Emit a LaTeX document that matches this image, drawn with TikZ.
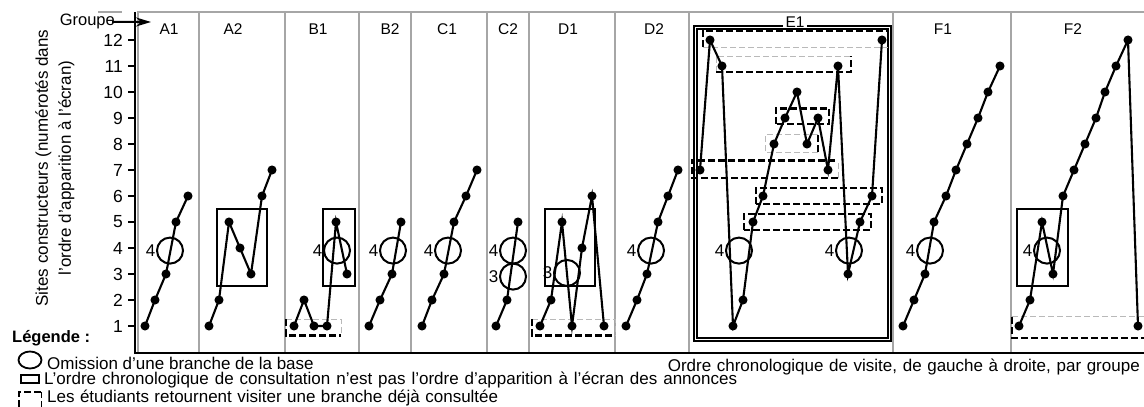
\documentclass[tikz,border=0pt]{standalone}
\usepackage{fontspec}
\setmainfont{Liberation Sans}
\usetikzlibrary{arrows.meta}

\begin{document}
\begin{tikzpicture}[x=1pt,y=1pt,
  ligne/.style={line width=2.1pt, mark=*, mark size=3.4pt},
  omis/.style={circle, draw, line width=2pt, minimum size=26pt, inner sep=0pt},
  chiffre/.style={font=\fontsize{17}{19}\selectfont, inner sep=0.5pt},
  ordre/.style={draw, line width=1.8pt},
  retour/.style={line width=2.8pt, dash pattern=on 7pt off 3pt},
  retourgris/.style={gray!55, line width=0.9pt, dash pattern=on 6pt off 3pt},
  cadre/.style={gray!70, line width=1.5pt},
  grp/.style={font=\fontsize{15.5}{17}\selectfont},
  txt/.style={font=\fontsize{17}{19}\selectfont, anchor=base west, inner sep=0pt}]

\useasboundingbox (0,0) rectangle (1144,407);
\clip (0,0) rectangle (1144,407);

\draw[cadre] (137,395) -- (1144,395);
\draw[cadre] (98,395) -- (122,395);
\foreach \x in {138,199,285,359,411,487,529,615,689,893,1011}
  \draw[cadre] (\x,55) -- (\x,395);
\draw[line width=2.8pt] (135,395) -- (135,54) -- (1144,54);

\node[rotate=90, align=center, font=\fontsize{17}{23}\selectfont] (titre) at (55,239)
  {Sites constructeurs (numérotés dans\\l'ordre d'apparition à l'écran)};

\node[anchor=base east, font=\fontsize{16.5}{18}\selectfont, inner sep=0pt] (groupe) at (115,381) {Groupe};
\coordinate (pointe) at (151,385);
\draw[line width=2pt, -{Stealth[length=15pt,width=9pt]}] ([xshift=-3pt]groupe.east) -- (pointe);

\foreach \x/\g in {169/A1,233/A2,318/B1,390/B2,447/C1,508/C2,568/D1,654/D2,943/F1,1073/F2}
  \node[grp] (g\g) at (\x,378) {\g};

\draw[line width=1.4pt, double, double distance=1.6pt] (695.5,379.5) rectangle (889.5,67.5);
\node[grp, fill=white, inner xsep=3pt, inner ysep=1pt] (gE1) at (795,385) {E1};

\begin{scope}[yshift=55pt, y=26pt]
\foreach \v in {1,...,12} {
  \draw[line width=1.4pt] (128,\v) -- (135,\v);
  \node[anchor=east, font=\fontsize{17.5}{19}\selectfont, inner sep=0pt] (v\v) at (123,\v) {\v};
}

\draw[ordre] (217,2.55) rectangle (267,5.5);
\draw[ordre] (323,2.55) rectangle (355,5.5);
\draw[ordre] (545,2.55) rectangle (595,5.5);
\draw[ordre] (1017,2.55) rectangle (1068,5.5);

\draw[retourgris] (286,1.27) -- (341,1.27) -- (341,0.62);
\draw[retour] (286,1.27) -- (286,0.62) -- (341,0.62);
\draw[retourgris] (532,1.27) -- (615,1.27) -- (615,0.62);
\draw[retour] (532,1.27) -- (532,0.62) -- (615,0.62);
\draw[retourgris] (1012,1.35) -- (1150,1.35);
\draw[retour] (1012,1.35) -- (1012,0.54) -- (1150,0.54);

\draw[retourgris] (703,11.73) -- (888,11.73);
\draw[retour] (703,11.73) -- (703,12.38) -- (888,12.38) -- (888,11.73);
\draw[retourgris] (716,10.77) -- (716,11.38) -- (851,11.38);
\draw[retour] (716,10.77) -- (851,10.77) -- (851,11.38);
\draw[retour] (776,8.77) rectangle (829,9.38);
\draw[retourgris] (818,7.69) -- (765,7.69) -- (765,8.35) -- (818,8.35);
\draw[retour] (818,7.69) -- (818,8.35);
\draw[retour] (838,6.69) -- (692,6.69) -- (692,7.38) -- (838,7.38);
\draw[retourgris] (838,6.69) -- (838,7.38);
\draw[retour] (756,5.69) rectangle (882,6.31);
\draw[retour] (744,4.69) rectangle (871,5.31);

\draw[ligne] plot coordinates {(145,1) (155,2) (166,3) (176,5) (188,6)};
\draw[ligne] plot coordinates {(209,1) (219,2) (229,5) (240,4) (251,3) (262,6) (272,7)};
\draw[ligne] plot coordinates {(294,1) (304,2) (314,1) (327,1) (336,5) (347,3)};
\draw[ligne] plot coordinates {(369,1) (380,2) (392,3) (401,5)};
\draw[ligne] plot coordinates {(422,1) (432,2) (444,3) (454,5) (466,6) (477,7)};
\draw[ligne] plot coordinates {(496,1) (507,2) (518,5)};
\draw[ligne] plot coordinates {(540,1) (551,2) (562,5) (572,1) (582,4) (592,6) (604,1)};
\draw[ligne] plot coordinates {(626,1) (637,2) (647,3) (658,5) (668,6) (678,7)};
\draw[ligne] plot coordinates {(700,7) (710,12) (722,11) (733,1) (743,2) (753,5) (763,6) (774,8)
  (785,9) (797,10) (807,8) (818,9) (828,7) (838,11) (848,3) (860,5) (872,6) (882,12)};
\draw[ligne] plot coordinates {(903,1) (914,2) (925,3) (934,5) (946,6) (956,7) (967,8) (978,9)
  (988,10) (1000,11)};
\draw[ligne] plot coordinates {(1019,1) (1030,2) (1042,5) (1053,3) (1063,6) (1074,7) (1085,8)
  (1096,9) (1105,10) (1116,11) (1128,12) (1138,1)};

\foreach \x/\n in {170/A1,337/B1,393/B2,448/C1,513/C2,651/D2,739/E1a,849/E1b,930/F1,1047/F2}
  \node[omis, label={[chiffre]left:4}] (o\n) at (\x,3.9) {};
\node[omis, label={[chiffre]left:3}] (oC2b) at (513,2.9) {};
\node[omis, label={[chiffre]left:3}] (oD1) at (567,3.04) {};
\end{scope}

\node[font=\bfseries\fontsize{16.5}{19}\selectfont, anchor=base west, inner sep=0pt] (legende) at (12,64) {Légende :};
\draw[line width=1.8pt] (30,47) ellipse [x radius=11.5pt, y radius=8.5pt];
\node[txt] (leg1) at (47,37) {Omission d'une branche de la base};
\draw[line width=1.6pt] (21,24) rectangle (39,32);
\node[txt] (leg2) at (44,22) {\makebox[693pt][s]{L'ordre chronologique de consultation n'est pas l'ordre d'apparition à l'écran des annonces}};
\draw[retour, line width=2.4pt] (19,-10) -- (19,15) -- (41,15);
\draw[retourgris, black] (41,15) -- (41,-10);
\node[txt] (leg3) at (47,4) {\makebox[451pt][s]{Les étudiants retournent visiter une branche déjà consultée}};
\node[txt, anchor=base east] (axex) at (1140,35) {\makebox[472pt][s]{Ordre chronologique de visite, de gauche à droite, par groupe}};
\end{tikzpicture}
\end{document}
